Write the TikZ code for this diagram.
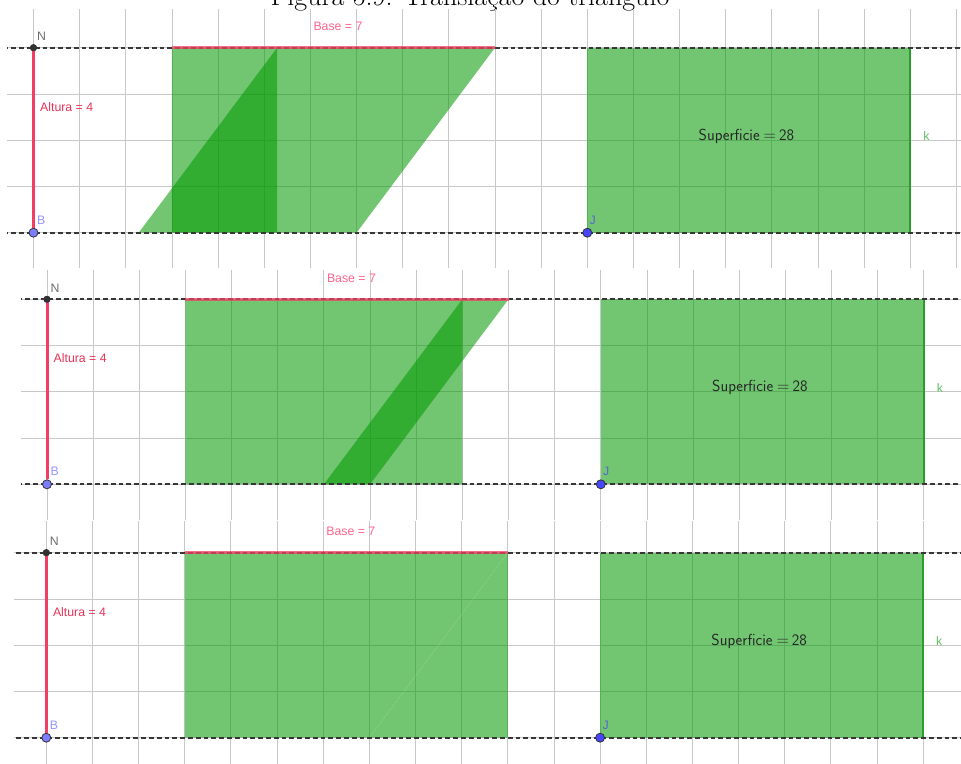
\documentclass[tikz,border=0pt]{standalone}
\usepackage{fontspec}
\newfontfamily\ggb{Liberation Sans}
\definecolor{gridc}{RGB}{200,200,200}
\definecolor{geogreen}{RGB}{0,153,0}
\definecolor{kc}{RGB}{40,160,40}
\definecolor{klab}{RGB}{100,190,100}
\definecolor{dashc}{RGB}{55,55,55}
\definecolor{altc}{RGB}{242,62,98}
\definecolor{altlab}{RGB}{232,52,88}
\definecolor{baselab}{RGB}{255,100,140}
\definecolor{nlab}{RGB}{110,110,110}
\definecolor{ndot}{RGB}{50,50,50}
\definecolor{bdot}{RGB}{125,125,255}
\definecolor{blab}{RGB}{150,150,255}
\definecolor{jdot}{RGB}{70,70,255}
\definecolor{jlab}{RGB}{90,100,210}
\tikzset{
  gridline/.style={draw=gridc,line width=0.9pt},
  geofill/.style={fill=geogreen,fill opacity=0.553},
  kline/.style={draw=kc,line width=1.8pt},
  dashline/.style={draw=dashc,line width=1.7pt,dash pattern=on 4.8pt off 3pt},
  basered/.style={draw=altc,line width=3pt,opacity=0.75},
  altline/.style={draw=altc,line width=3pt},
  ptN/.style={circle,fill=ndot,inner sep=0pt,minimum size=7pt},
  ptB/.style={circle,fill=bdot,draw=ndot,line width=0.8pt,inner sep=0pt,minimum size=9pt},
  ptJ/.style={circle,fill=jdot,draw=ndot,line width=0.8pt,inner sep=0pt,minimum size=9pt},
  lbl/.style={inner sep=0pt,font=\ggb\fontsize{12.3}{14}\selectfont},
  suplbl/.style={inner sep=0pt,font=\sffamily\fontsize{16}{19}\selectfont,text=black!85},
}
% #1 x0, #2 yN, #3 left, #4 top, #5 bottom, #6 triangle offset, #7 suffix, #8 seam opacity
\newcommand\geopanel[8]{%
\begin{scope}
\clip (#3,#4) rectangle (961,#5);
\begin{scope}[shift={(#1,#2)},x=46.15pt,y=-46.25pt]
\foreach \i in {-1,...,20} \draw[gridline] (\i,-2) -- (\i,6);
\foreach \j in {-1,...,5} \draw[gridline] (-2,\j) -- (21,\j);
\fill[geofill] (3,4) -- (7,4) -- (10,0) -- (3,0) -- cycle;
\fill[geofill] (#6,4) -- ({#6+3},0) -- ({#6+3},4) -- cycle;
\draw[white,opacity=#8,line width=0.5pt] (7,4) -- (10,0);
\fill[geofill] (12,0) rectangle (19,4);
\draw[kline] (19,0) -- (19,4);
\draw[dashline] (-2,0) -- (21,0);
\draw[dashline] (-2,4) -- (21,4);
\draw[basered] (3,0) -- (10,0);
\node[ptN] (N#7) at (0,0) {};
\node[ptB] (B#7) at (0,4) {};
\draw[altline] (N#7.center) -- (B#7);
\node[ptN] at (N#7) {};
\node[ptJ] (J#7) at (12,4) {};
\node[lbl,text=nlab,xshift=8pt,yshift=11.2pt] (NL#7) at (N#7) {N};
\node[lbl,text=blab,xshift=7.7pt,yshift=12.7pt] (BL#7) at (B#7) {B};
\node[lbl,text=jlab,xshift=5.5pt,yshift=12.7pt] (JL#7) at (J#7) {J};
\node[lbl,text=altlab,anchor=west,xshift=6.5pt,yshift=-59pt] (AL#7) at (N#7) {Altura = 4};
\node[lbl,text=baselab,xshift=4.5pt,yshift=21pt] (BaseL#7) at (6.5,0) {Base = 7};
\node[suplbl,xshift=-2.4pt,yshift=4pt] (S#7) at (15.5,2) {Superficie\hspace{4pt}$=$\hspace{3pt}28};
\node[lbl,text=klab,xshift=16pt,yshift=4pt] (K#7) at (19,2) {k};
\end{scope}
\end{scope}}
\begin{document}
\begin{tikzpicture}[x=1pt,y=-1pt]
\useasboundingbox (0,0) rectangle (961,763);
\fill[white] (0,0) rectangle (961,763);
\node[anchor=base,inner sep=0pt,font=\fontsize{28}{30}\selectfont] (title) at (470,5.5) {Figura 5.9: Translação do triângulo};
\geopanel{33.5}{47.7}{7}{9}{267}{2.28}{a}{0}
\geopanel{47}{299.3}{21}{270}{519}{6}{b}{0}
\geopanel{46.3}{552.7}{14}{521}{763}{7}{c}{0.2}
\end{tikzpicture}
\end{document}
